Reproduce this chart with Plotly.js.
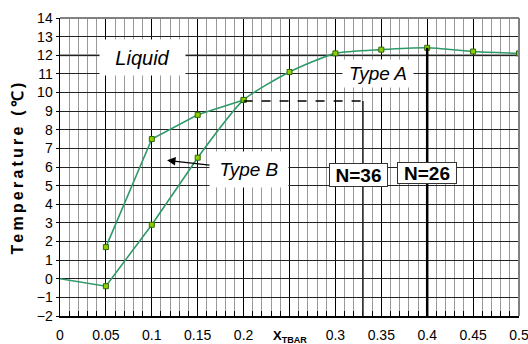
<!DOCTYPE html>
<html>
<head>
<meta charset="utf-8">
<script src="https://cdn.plot.ly/plotly-3.0.1.min.js"></script>
<style>
html,body{margin:0;padding:0;background:#fff;}
#chart{width:528px;height:344px;}
.ytitle{letter-spacing:3.2px;}
</style>
</head>
<body>
<div id="chart"></div>
<script>
// ---- data ----
const xMain = [0, 0.05, 0.1, 0.15, 0.2, 0.25, 0.3, 0.35, 0.4, 0.45, 0.5];
const yMain = [0, -0.4, 2.9, 6.5, 9.6, 11.1, 12.1, 12.3, 12.4, 12.2, 12.1];
const xBranch = [0.05, 0.1, 0.15, 0.2];
const yBranch = [1.7, 7.5, 8.8, 9.6];
const liquidusT = 12;
const n36X = 0.33, n36T = 9.55;
const n26X = 0.4, n26T = 12.4;
const yTickVals = [-2,-1,0,1,2,3,4,5,6,7,8,9,10,11,12,13,14];
const xTickVals = [0,0.05,0.1,0.15,0.2,0.25,0.3,0.35,0.4,0.45,0.5];
const xTickText = ['0','0.05','0.1','0.15','0.2','','0.3','0.35','0.4','0.45','0.5'];

const LINE = '#2e9a68';
const FONT = 'Liberation Sans, Arial, sans-serif';
const mk = {symbol:'square', size:5, color:'#8fcc00', line:{color:'#2d6a10', width:1}};

const traces = [
  {x:xMain.slice(0,4), y:yMain.slice(0,4), mode:'lines', line:{color:LINE, width:1.6}, hoverinfo:'skip'},
  {x:xMain.slice(3), y:yMain.slice(3), mode:'lines', line:{color:LINE, width:1.6, shape:'spline', smoothing:0.6}, hoverinfo:'skip'},
  {x:xMain.slice(1), y:yMain.slice(1), mode:'markers', marker:mk, hoverinfo:'skip'},
  {x:xBranch, y:yBranch, mode:'lines+markers', line:{color:LINE, width:1.6}, marker:mk, hoverinfo:'skip'}
];

const layout = {
  width:528, height:344,
  margin:{l:60, r:9, t:17.5, b:28},
  paper_bgcolor:'#fff', plot_bgcolor:'#fff',
  showlegend:false,
  font:{family:FONT, size:14, color:'#000'},
  xaxis:{
    range:[0,0.5], tickmode:'array', tickvals:xTickVals, ticktext:xTickText,
    showgrid:true, gridcolor:'#000', gridwidth:1,
    showline:true, linecolor:'#000', linewidth:1.5,
    ticks:'inside', ticklen:5, tickcolor:'#000',
    ticklabelstandoff:6, ticklabeloverflow:'allow',
    zeroline:false, fixedrange:true,
    minor:{dtick:0.01, showgrid:true, gridcolor:'#999', gridwidth:1, ticks:'inside', ticklen:5, tickcolor:'#000'}
  },
  yaxis:{
    range:[-2,14], tickmode:'array', tickvals:yTickVals,
    showgrid:true, gridcolor:'#222', gridwidth:1,
    showline:true, linecolor:'#000', linewidth:1.5,
    ticks:'outside', ticklen:3, tickcolor:'#000',
    zeroline:false, fixedrange:true,
    title:{text:'<b>Temperature (℃)</b>', font:{size:16, family:FONT}, standoff:9}
  },
  shapes:[
    {type:'line', xref:'paper', yref:'y', x0:0, x1:1, y0:liquidusT, y1:liquidusT, line:{color:'#7a7a7a', width:2}, layer:'below'},
    {type:'line', xref:'paper', yref:'paper', x0:0, x1:1, y0:1, y1:1, line:{color:'#808080', width:2}},
    {type:'line', xref:'paper', yref:'paper', x0:1, x1:1, y0:0, y1:1, line:{color:'#808080', width:2}},
    {type:'line', xref:'x', yref:'y', x0:xBranch[3], x1:n36X, y0:n36T, y1:n36T, line:{color:'#000', width:1.5, dash:'dash'}},
    {type:'line', xref:'x', yref:'y', x0:n36X, x1:n36X, y0:n36T, y1:-2, line:{color:'#222', width:1.5}},
    {type:'line', xref:'x', yref:'y', x0:n26X, x1:n26X, y0:n26T, y1:-2, line:{color:'#000', width:2.5}}
  ],
  annotations:[
    {x:0.0899, y:11.9, xref:'x', yref:'y', text:'<i>Liquid</i>', showarrow:false, font:{size:20, family:FONT},
     bgcolor:'#fff', width:85, height:35, borderpad:0},
    {x:0.3464, y:11.0, xref:'x', yref:'y', text:'<i>Type A</i>', showarrow:false, font:{size:19, family:FONT},
     bgcolor:'#fff', width:70, height:27, borderpad:0},
    {x:0.1166, y:6.36, xref:'x', yref:'y', text:'<i>Type B</i>', showarrow:true, ax:82, ay:9.5, axref:'pixel', ayref:'pixel',
     arrowhead:2, arrowsize:1.3, arrowwidth:1.3, arrowcolor:'#000', standoff:0,
     font:{size:19, family:FONT}, bgcolor:'#fff', width:78, height:35, borderpad:0},
    {x:0.3252, y:5.56, xref:'x', yref:'y', text:'<b>N=36</b>', showarrow:false, font:{size:19, family:FONT},
     bgcolor:'#fff', bordercolor:'#333', borderwidth:1, width:57, height:22, borderpad:0},
    {x:0.3998, y:5.67, xref:'x', yref:'y', text:'<b>N=26</b>', showarrow:false, font:{size:19, family:FONT},
     bgcolor:'#fff', bordercolor:'#333', borderwidth:1, width:58, height:20, borderpad:0},
    {x:0.25, y:0, xref:'x', yref:'paper', yanchor:'top', yshift:-10, text:'<b>X<sub>TBAR</sub></b>', showarrow:false,
     font:{size:13, family:FONT}}
  ]
};

Plotly.newPlot('chart', traces, layout, {staticPlot:true, displayModeBar:false});
</script>
</body>
</html>
